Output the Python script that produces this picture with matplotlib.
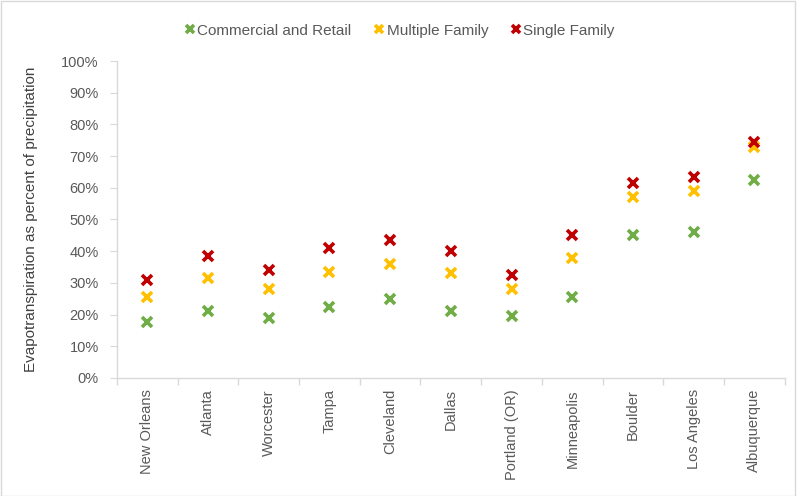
import numpy as np
import matplotlib
matplotlib.use('Agg')
import matplotlib.pyplot as plt
from matplotlib.ticker import PercentFormatter

cities = ['New Orleans', 'Atlanta', 'Worcester', 'Tampa', 'Cleveland', 'Dallas',
          'Portland (OR)', 'Minneapolis', 'Boulder', 'Los Angeles', 'Albuquerque']
commercial = [17.5, 21.0, 19.0, 22.5, 25.0, 21.0, 19.5, 25.5, 45.0, 46.0, 62.5]
multiple = [25.5, 31.5, 28.0, 33.5, 36.0, 33.0, 28.0, 38.0, 57.0, 59.0, 73.0]
single = [31.0, 38.5, 34.0, 41.0, 43.5, 40.0, 32.5, 45.0, 61.5, 63.5, 74.5]

plt.rcParams['font.family'] = ['Liberation Sans', 'DejaVu Sans']
grey = '#595959'
spine = '#d9d9d9'

fig = plt.figure(figsize=(8, 4.96), dpi=100)
ax = fig.add_axes([0.146, 0.238, 0.835, 0.639])

x = np.arange(len(cities))
for vals, col, lab in [(commercial, '#70AD47', 'Commercial and Retail'),
                       (multiple, '#FFC000', 'Multiple Family'),
                       (single, '#C00000', 'Single Family')]:
    ax.plot(x, vals, linestyle='none', marker='x', ms=7, mew=2.6, color=col, label=lab)

ax.set_ylim(0, 100)
ax.set_xlim(-0.5, len(cities) - 0.5)
ax.set_yticks(np.arange(0, 101, 10))
ax.yaxis.set_major_formatter(PercentFormatter(decimals=0))
ax.set_xticks(x)
ax.set_xticklabels(cities, rotation=90)
ax.set_xticks(np.arange(-0.5, len(cities)), minor=True)
ax.tick_params(axis='x', which='major', length=0, pad=8, labelsize=10.5, labelcolor=grey)
ax.tick_params(axis='x', which='minor', length=5, color=spine, width=1)
ax.tick_params(axis='y', length=5, color=spine, labelsize=10.5, labelcolor=grey, pad=8)

for s in ['top', 'right']:
    ax.spines[s].set_visible(False)
for s in ['left', 'bottom']:
    ax.spines[s].set_color(spine)
    ax.spines[s].set_linewidth(1)

ax.set_ylabel('Evapotranspiration as percent of precipitation', fontsize=11, color='#404040', labelpad=17)

leg = fig.legend(loc='upper center', bbox_to_anchor=(0.5, 0.98), ncol=3, frameon=False,
                 fontsize=11, handlelength=0.6, handletextpad=0.2, columnspacing=1.5,
                 markerscale=0.8)
for t in leg.get_texts():
    t.set_color(grey)

fig.patches.append(plt.Rectangle((0.001, 0.001), 0.993, 0.997, transform=fig.transFigure,
                                 fill=False, edgecolor='#d9d9d9', linewidth=1))

fig.savefig('out.png', dpi=100)
